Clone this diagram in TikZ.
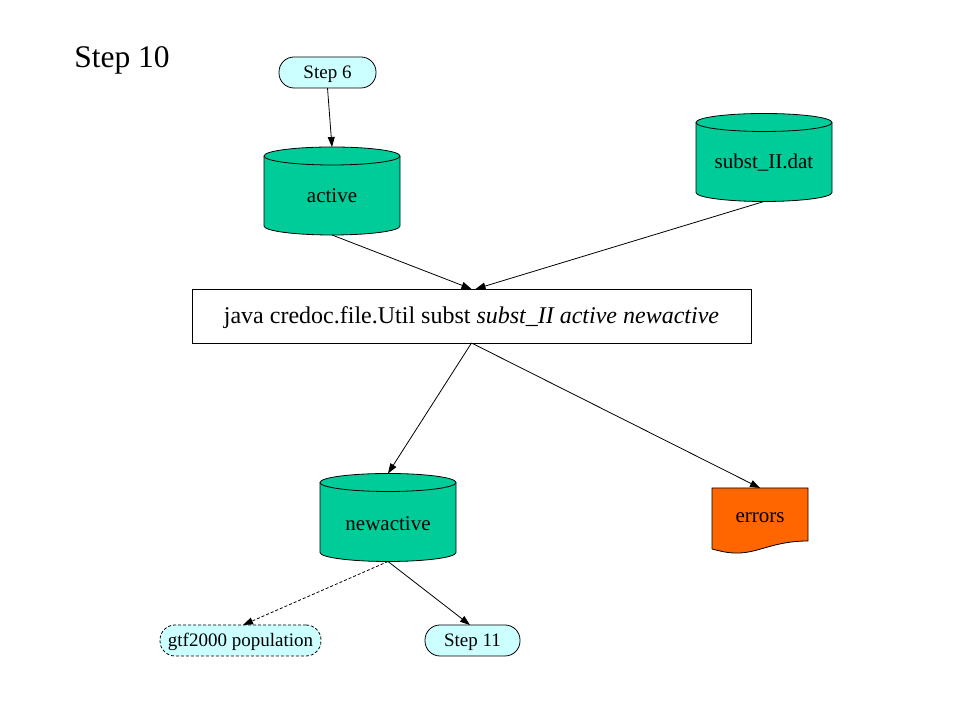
\documentclass[tikz,border=0pt]{standalone}
\usepackage{fontspec}
\setmainfont{Liberation Serif}
\usetikzlibrary{arrows.meta,calc}
\definecolor{cylgreen}{HTML}{00CC99}
\definecolor{stepcyan}{HTML}{CCFFFF}
\definecolor{errorange}{HTML}{FF6600}
\newcommand\mycyl[1]{%
  \filldraw[fill=cylgreen, line width=0.8pt]
    ($(#1.north west)+(0,-9)$) -- ($(#1.south west)+(0,9)$)
    arc[start angle=180, end angle=360, x radius=68, y radius=9]
    -- ($(#1.north east)+(0,-9)$)
    arc[start angle=0, end angle=180, x radius=68, y radius=9] -- cycle;
  \draw[line width=0.8pt] ($(#1.north west)+(0,-9)$)
    arc[start angle=180, end angle=360, x radius=68, y radius=9];
}
\begin{document}
\begin{tikzpicture}[x=1pt, y=1pt,
  every node/.style={inner sep=0pt, outer sep=0pt},
  stepbox/.style={draw, line width=0.8pt, fill=stepcyan, rounded corners=15pt,
    minimum height=31pt, text height=17pt, text depth=4pt, font=\fontsize{19}{22}\selectfont},
  cylnode/.style={minimum width=136pt, minimum height=88pt},
  lbl/.style={font=\fontsize{21}{25}\selectfont},
  conn/.style={-{Triangle[length=10pt,width=7pt]}, line width=0.8pt}]
\path[use as bounding box, fill=white] (0,0) rectangle (959,719);

\node[font=\fontsize{31.5}{38}\selectfont] (title) at (122,659) {Step 10};

\node[stepbox, minimum width=97pt] (step6) at (327.5,646.5) {Step 6};

\node[cylnode] (active) at (332,528) {};
\mycyl{active}
\node[lbl] (activelbl) at ($(active.center)+(0,-5)$) {active};

\node[cylnode] (subst) at (764,561.5) {};
\mycyl{subst}
\node[lbl] (substlbl) at ($(subst.center)+(0,-5)$) {subst\_II.dat};

\node[draw, line width=0.8pt, fill=white, minimum width=559pt, minimum height=54pt] (cmd) at (471.5,403) {};
\node[font=\fontsize{24}{29}\selectfont] (cmdlbl) at ($(cmd.center)+(0,-2)$)
  {java credoc.file.Util subst \textit{subst\_II active newactive}};

\node[cylnode] (newactive) at (388,201.5) {};
\mycyl{newactive}
\node[lbl] (newactivelbl) at ($(newactive.center)+(0,-6)$) {newactive};

\node[minimum width=96pt, minimum height=64pt] (errors) at (760,199) {};
\filldraw[fill=errorange, line width=0.8pt]
  ($(errors.south west)+(0,3)$) -- (errors.north west) -- (errors.north east)
  -- ($(errors.south east)+(0,11)$)
  .. controls ($(errors.south east)+(-33,11)$) and ($(errors.south west)+(48,0)$) .. ($(errors.south west)+(28,-1)$)
  .. controls ($(errors.south west)+(16,-1.5)$) and ($(errors.south west)+(8,1)$) .. ($(errors.south west)+(0,3)$);
\node[lbl] (errorslbl) at ($(errors.center)+(0,2)$) {errors};

\node[stepbox, dashed, dash pattern=on 3pt off 2pt, minimum width=161pt] (gtf) at (240.5,78.5) {gtf2000 population};
\node[stepbox, minimum width=95pt] (step11) at (472.5,78.5) {Step 11};

\coordinate (cmdin) at ($(cmd.north)+(4,0)$);
\draw[conn] (step6.south) -- (active.north);
\draw[conn] (active.south) -- (cmd.north);
\draw[conn] (subst.south) -- (cmdin);
\draw[conn] (cmd.south) -- (newactive.north);
\draw[conn] (cmd.south) -- (errors.north);
\draw[conn, dashed, dash pattern=on 3pt off 2pt] (newactive.south) -- ($(gtf.north)+(2.5,0)$);
\draw[conn] (newactive.south) -- ($(step11.north)+(-2.5,0)$);
\end{tikzpicture}
\end{document}
